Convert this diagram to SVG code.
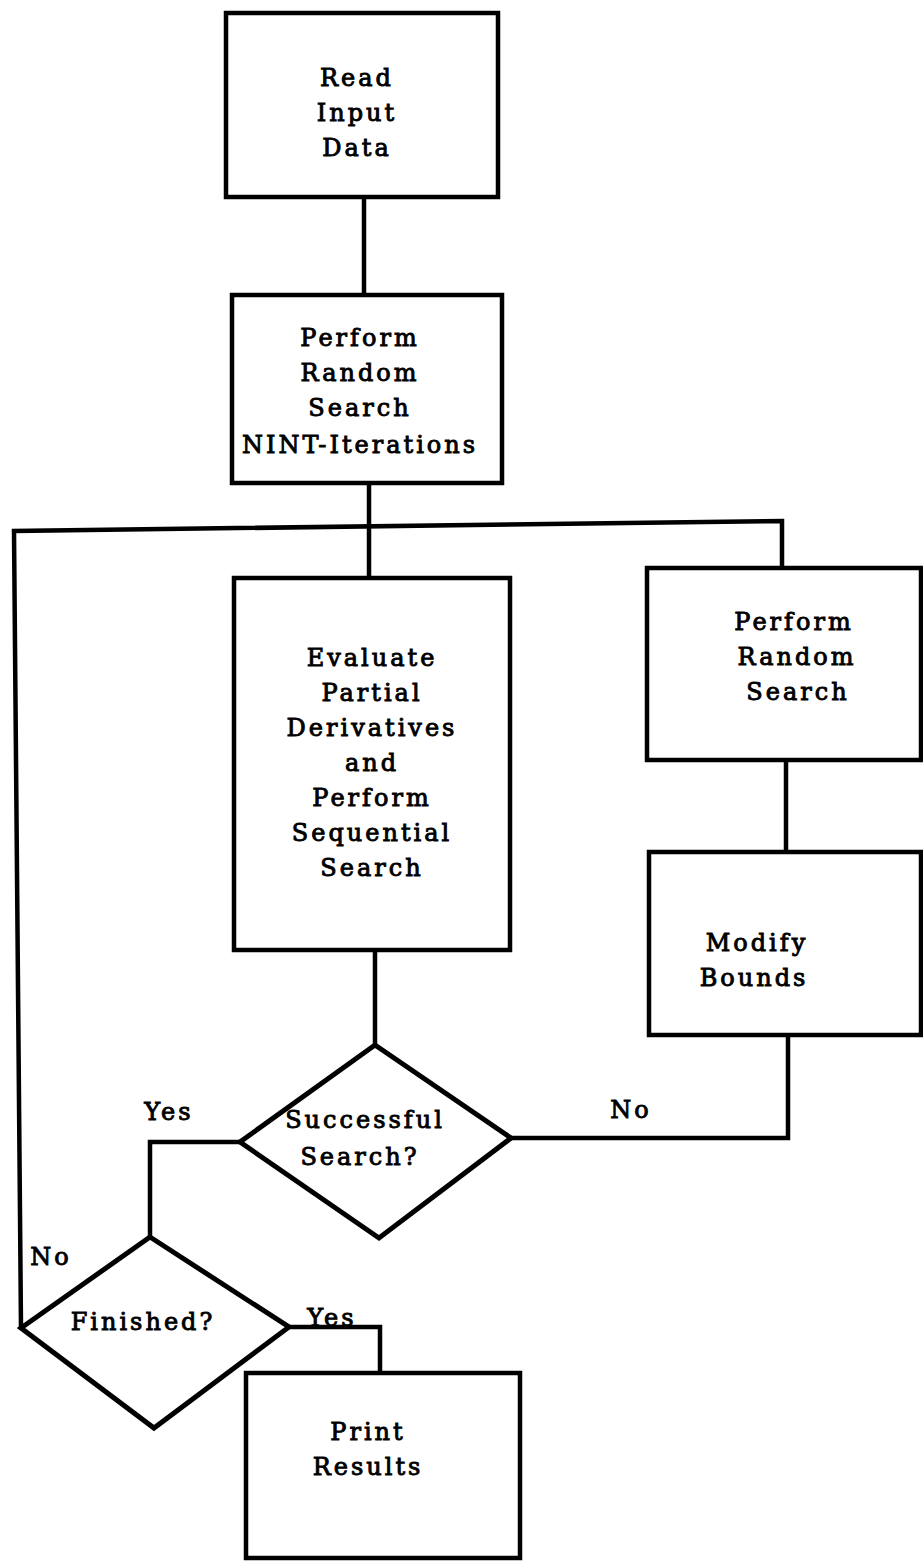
<svg xmlns="http://www.w3.org/2000/svg" width="923" height="1561" viewBox="0 0 923 1561">
<style>
.box{fill:#fff;stroke:#000;stroke-width:4.5;stroke-linejoin:miter}
.dia{fill:#fff;stroke:#000;stroke-width:5;stroke-linejoin:miter}
.con{fill:none;stroke:#000;stroke-width:4.5;stroke-linejoin:miter}
text{font-family:"DejaVu Serif","Liberation Serif",serif;font-size:24px;letter-spacing:3px;fill:#000;stroke:#000;stroke-width:0.9;text-anchor:middle}
</style>
<rect width="923" height="1561" fill="#fff"/>
<g id="connectors">
<path class="con" d="M364 197 V295"/>
<path class="con" d="M369 483 V578"/>
<path class="con" d="M21 1328 L14 531 L782 521 V568"/>
<path class="con" d="M786 760 V852"/>
<path class="con" d="M375 950 V1045"/>
<path class="con" d="M240 1142 H150 V1237"/>
<path class="con" d="M511 1138 H788 V1035"/>
<path class="con" d="M289 1327 H380 V1373"/>
</g>
<g id="read">
<rect class="box" x="226" y="13" width="272" height="184"/>
<text x="357" y="86">Read</text>
<text x="357" y="121">Input</text>
<text x="357" y="156">Data</text>
</g>
<g id="random1">
<rect class="box" x="232" y="295" width="270" height="188"/>
<text x="360" y="346">Perform</text>
<text x="360" y="381">Random</text>
<text x="360" y="416">Search</text>
<text x="360" y="453">NINT-Iterations</text>
</g>
<g id="evaluate">
<rect class="box" x="234" y="578" width="276" height="372"/>
<text x="372" y="666">Evaluate</text>
<text x="372" y="701">Partial</text>
<text x="372" y="736">Derivatives</text>
<text x="372" y="771">and</text>
<text x="372" y="806">Perform</text>
<text x="372" y="841">Sequential</text>
<text x="372" y="876">Search</text>
</g>
<g id="random2">
<rect class="box" x="647" y="568" width="274" height="192"/>
<text x="794" y="630">Perform</text>
<text x="797" y="665">Random</text>
<text x="798" y="700">Search</text>
</g>
<g id="modify">
<rect class="box" x="649" y="852" width="272" height="183"/>
<text x="757" y="951">Modify</text>
<text x="754" y="986">Bounds</text>
</g>
<g id="successful">
<polygon class="dia" points="375,1045 511,1138 379,1238 240,1142"/>
<text x="365" y="1128">Successful</text>
<text x="360" y="1165">Search?</text>
</g>
<g id="finished">
<polygon class="dia" points="150,1237 289,1327 154,1428 21,1328"/>
<text x="143" y="1330">Finished?</text>
</g>
<g id="print">
<rect class="box" x="246" y="1373" width="274" height="185"/>
<text x="368" y="1440">Print</text>
<text x="368" y="1475">Results</text>
</g>
<g id="labels">
<text x="169" y="1120">Yes</text>
<text x="631" y="1118">No</text>
<text x="51" y="1265">No</text>
<text x="332" y="1326">Yes</text>
</g>
</svg>
